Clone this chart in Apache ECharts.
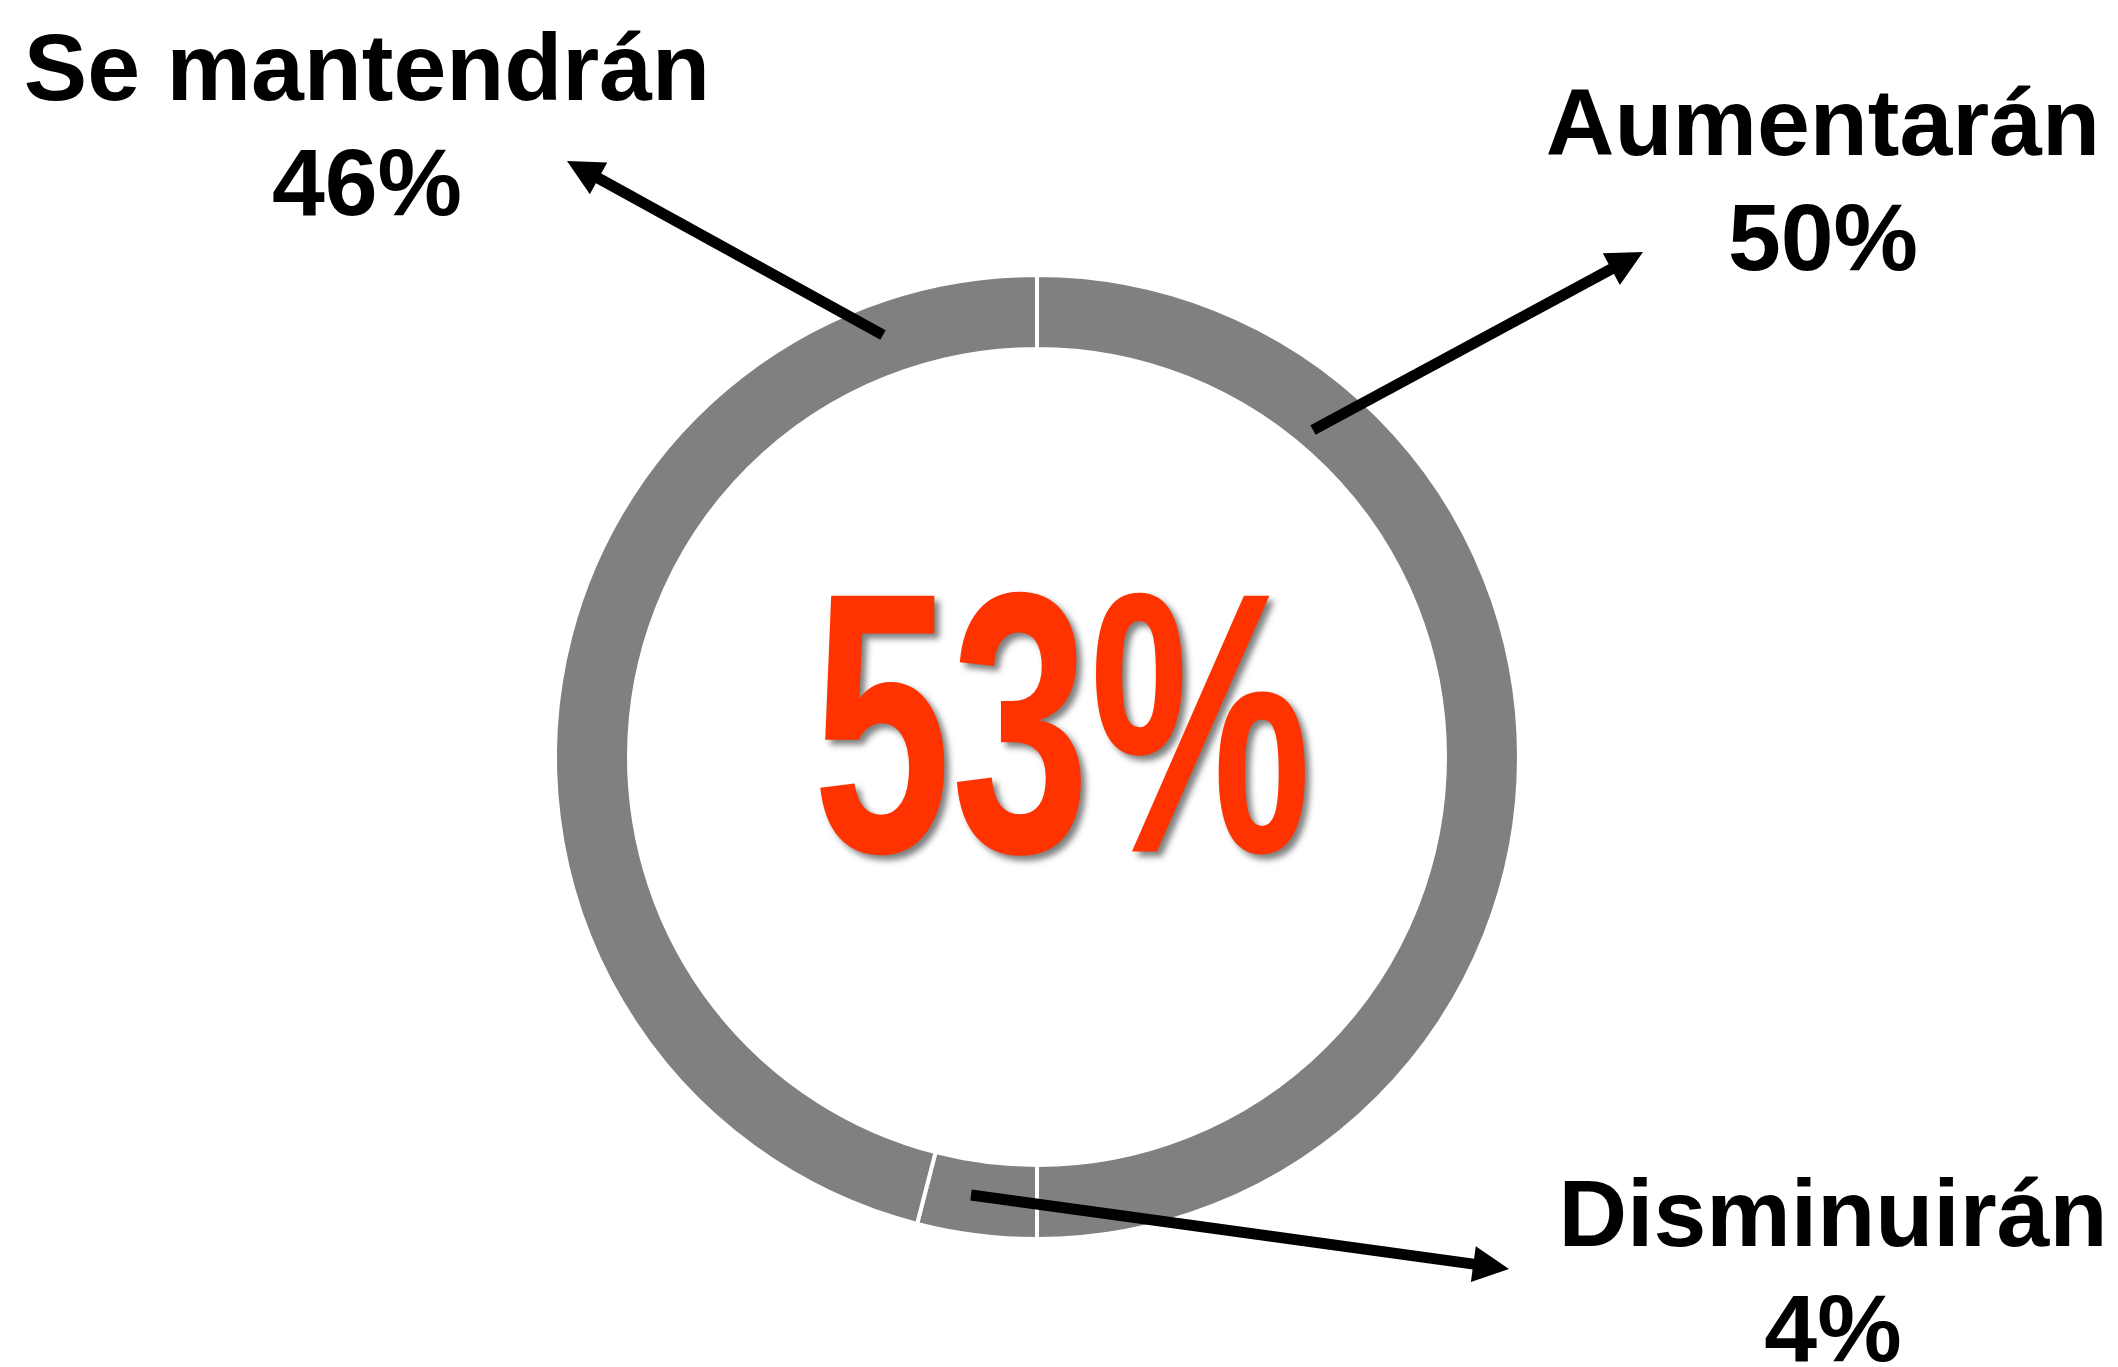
<!DOCTYPE html>
<html>
<head>
<meta charset="utf-8">
<title>Expectativas</title>
<script src="https://cdn.jsdelivr.net/npm/echarts@6/dist/echarts.min.js"></script>
<style>
  html, body { margin: 0; padding: 0; background: #fff; }
  #chart { width: 2118px; height: 1367px; }
</style>
</head>
<body>
<div id="chart"></div>
<script>
// data
const categories = ['Aumentarán', 'Disminuirán', 'Se mantendrán'];
const shares = [50, 4, 46];
const centerValue = 53;

// layout (pixels)
const pieCenter = [1037, 757];
const labelAnchors = [[1823, 186], [1833, 1277], [367, 131]];
// arrows: tail -> tip
const arrows = [
  [1313, 430, 1643, 252],
  [971, 1195, 1509, 1269],
  [883, 335, 567, 161]
];

function arrowShapes(a) {
  const [x1, y1, x2, y2] = a;
  const len = Math.hypot(x2 - x1, y2 - y1);
  const ux = (x2 - x1) / len, uy = (y2 - y1) / len;
  const head = 36, half = 18;
  const bx = x2 - ux * head, by = y2 - uy * head;
  return [
    {
      type: 'line', z: 10,
      shape: { x1: x1, y1: y1, x2: bx + ux * 4, y2: by + uy * 4 },
      style: { stroke: '#000', lineWidth: 11 }
    },
    {
      type: 'polygon', z: 10,
      shape: { points: [[x2, y2], [bx - uy * half, by + ux * half], [bx + uy * half, by - ux * half]] },
      style: { fill: '#000' }
    }
  ];
}

const chart = echarts.init(document.getElementById('chart'));

const option = {
  backgroundColor: '#fff',
  animation: false,
  series: [{
    type: 'pie',
    center: pieCenter,
    radius: [408, 482],
    startAngle: 90,
    clockwise: true,
    avoidLabelOverlap: false,
    silent: true,
    itemStyle: { color: '#808080', borderColor: '#fff', borderWidth: 4 },
    label: {
      show: true,
      position: 'outside',
      formatter: '{b}\n{c}%',
      fontFamily: 'Liberation Sans',
      fontWeight: 'bold',
      fontSize: 95,
      lineHeight: 115,
      color: '#000'
    },
    labelLine: { show: false },
    labelLayout: function (params) {
      const p = labelAnchors[params.dataIndex];
      return { x: p[0], y: p[1], align: 'center', verticalAlign: 'middle' };
    },
    data: categories.map((name, i) => ({ name: name, value: shares[i] }))
  }],
  graphic: [
    {
      type: 'text', z: 20,
      x: 1062, y: 749,
      scaleX: 0.67,
      style: {
        text: centerValue + '%',
        fontFamily: 'Liberation Sans',
        fontWeight: 'bold',
        fontSize: 372,
        fill: '#FF3300',
        align: 'center',
        verticalAlign: 'middle',
        textShadowColor: 'rgba(0,0,0,0.5)',
        textShadowBlur: 6,
        textShadowOffsetX: 5,
        textShadowOffsetY: 5
      }
    }
  ].concat(...arrows.map(arrowShapes))
};

chart.setOption(option);
</script>
</body>
</html>
